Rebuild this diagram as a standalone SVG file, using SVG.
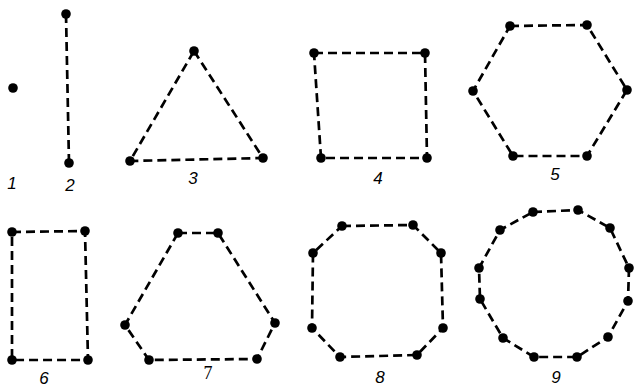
<svg xmlns="http://www.w3.org/2000/svg" width="634" height="388" viewBox="0 0 634 388">
<style>
.e{fill:none;stroke:#000;stroke-width:2.7;stroke-dasharray:9 5;stroke-linejoin:round}
.d{fill:#000}
.t{font-family:"Liberation Sans",Arial,sans-serif;font-style:italic;font-size:17px;fill:#000;text-anchor:middle}
.s{font-family:"Liberation Serif","Times New Roman",serif;font-size:18px;fill:#000;text-anchor:middle}
</style>
<rect width="634" height="388" fill="#fff"/>
<g id="connectors">
<line class="e" x1="66" y1="14" x2="69" y2="163"/>
<polygon class="e" points="194,51 263,158 130,161"/>
<polygon class="e" points="314,53 425,53 427,158 321,158"/>
<polygon class="e" points="510,26 587,25 627,90 587,156 513,156 473,91"/>
<polygon class="e" points="12,232 85,231 88,360 12,360"/>
<polygon class="e" points="178,233 218,233 275,323 257,359 149,360 125,325"/>
<polygon class="e" points="342,226 413,225 441,253 443,328 417,355 340,357 312,328 313,253"/>
<polygon class="e" points="533,212 578,210 610,228 629,268 628,301 608,337 577,357 534,357 503,338 480,299 479,268 500,230"/>
</g>
<g id="fig1">
<circle class="d" cx="13" cy="88" r="4.8"/>
<text class="t" x="12" y="189">1</text>
</g>
<g id="fig2">
<circle class="d" cx="66" cy="14" r="4.8"/>
<circle class="d" cx="69" cy="163" r="4.8"/>
<text class="t" x="70" y="191">2</text>
</g>
<g id="fig3">
<circle class="d" cx="194" cy="51" r="4.8"/>
<circle class="d" cx="263" cy="158" r="4.8"/>
<circle class="d" cx="130" cy="161" r="4.8"/>
<text class="t" x="193" y="184">3</text>
</g>
<g id="fig4">
<circle class="d" cx="314" cy="53" r="4.8"/>
<circle class="d" cx="425" cy="53" r="4.8"/>
<circle class="d" cx="427" cy="158" r="4.8"/>
<circle class="d" cx="321" cy="158" r="4.8"/>
<text class="t" x="378" y="184">4</text>
</g>
<g id="fig5">
<circle class="d" cx="510" cy="26" r="4.8"/>
<circle class="d" cx="587" cy="25" r="4.8"/>
<circle class="d" cx="627" cy="90" r="4.8"/>
<circle class="d" cx="587" cy="156" r="4.8"/>
<circle class="d" cx="513" cy="156" r="4.8"/>
<circle class="d" cx="473" cy="91" r="4.8"/>
<text class="t" x="555" y="180">5</text>
</g>
<g id="fig6">
<circle class="d" cx="12" cy="232" r="4.8"/>
<circle class="d" cx="85" cy="231" r="4.8"/>
<circle class="d" cx="88" cy="360" r="4.8"/>
<circle class="d" cx="12" cy="360" r="4.8"/>
<text class="t" x="44" y="384">6</text>
</g>
<g id="fig7">
<circle class="d" cx="178" cy="233" r="4.8"/>
<circle class="d" cx="218" cy="233" r="4.8"/>
<circle class="d" cx="275" cy="323" r="4.8"/>
<circle class="d" cx="257" cy="359" r="4.8"/>
<circle class="d" cx="149" cy="360" r="4.8"/>
<circle class="d" cx="125" cy="325" r="4.8"/>
<text class="s" x="208" y="379">7</text>
</g>
<g id="fig8">
<circle class="d" cx="342" cy="226" r="4.8"/>
<circle class="d" cx="413" cy="225" r="4.8"/>
<circle class="d" cx="441" cy="253" r="4.8"/>
<circle class="d" cx="443" cy="328" r="4.8"/>
<circle class="d" cx="417" cy="355" r="4.8"/>
<circle class="d" cx="340" cy="357" r="4.8"/>
<circle class="d" cx="312" cy="328" r="4.8"/>
<circle class="d" cx="313" cy="253" r="4.8"/>
<text class="t" x="380" y="383">8</text>
</g>
<g id="fig9">
<circle class="d" cx="533" cy="212" r="4.8"/>
<circle class="d" cx="578" cy="210" r="4.8"/>
<circle class="d" cx="610" cy="228" r="4.8"/>
<circle class="d" cx="629" cy="268" r="4.8"/>
<circle class="d" cx="628" cy="301" r="4.8"/>
<circle class="d" cx="608" cy="337" r="4.8"/>
<circle class="d" cx="577" cy="357" r="4.8"/>
<circle class="d" cx="534" cy="357" r="4.8"/>
<circle class="d" cx="503" cy="338" r="4.8"/>
<circle class="d" cx="480" cy="299" r="4.8"/>
<circle class="d" cx="479" cy="268" r="4.8"/>
<circle class="d" cx="500" cy="230" r="4.8"/>
<text class="t" x="556" y="383">9</text>
</g>
</svg>
